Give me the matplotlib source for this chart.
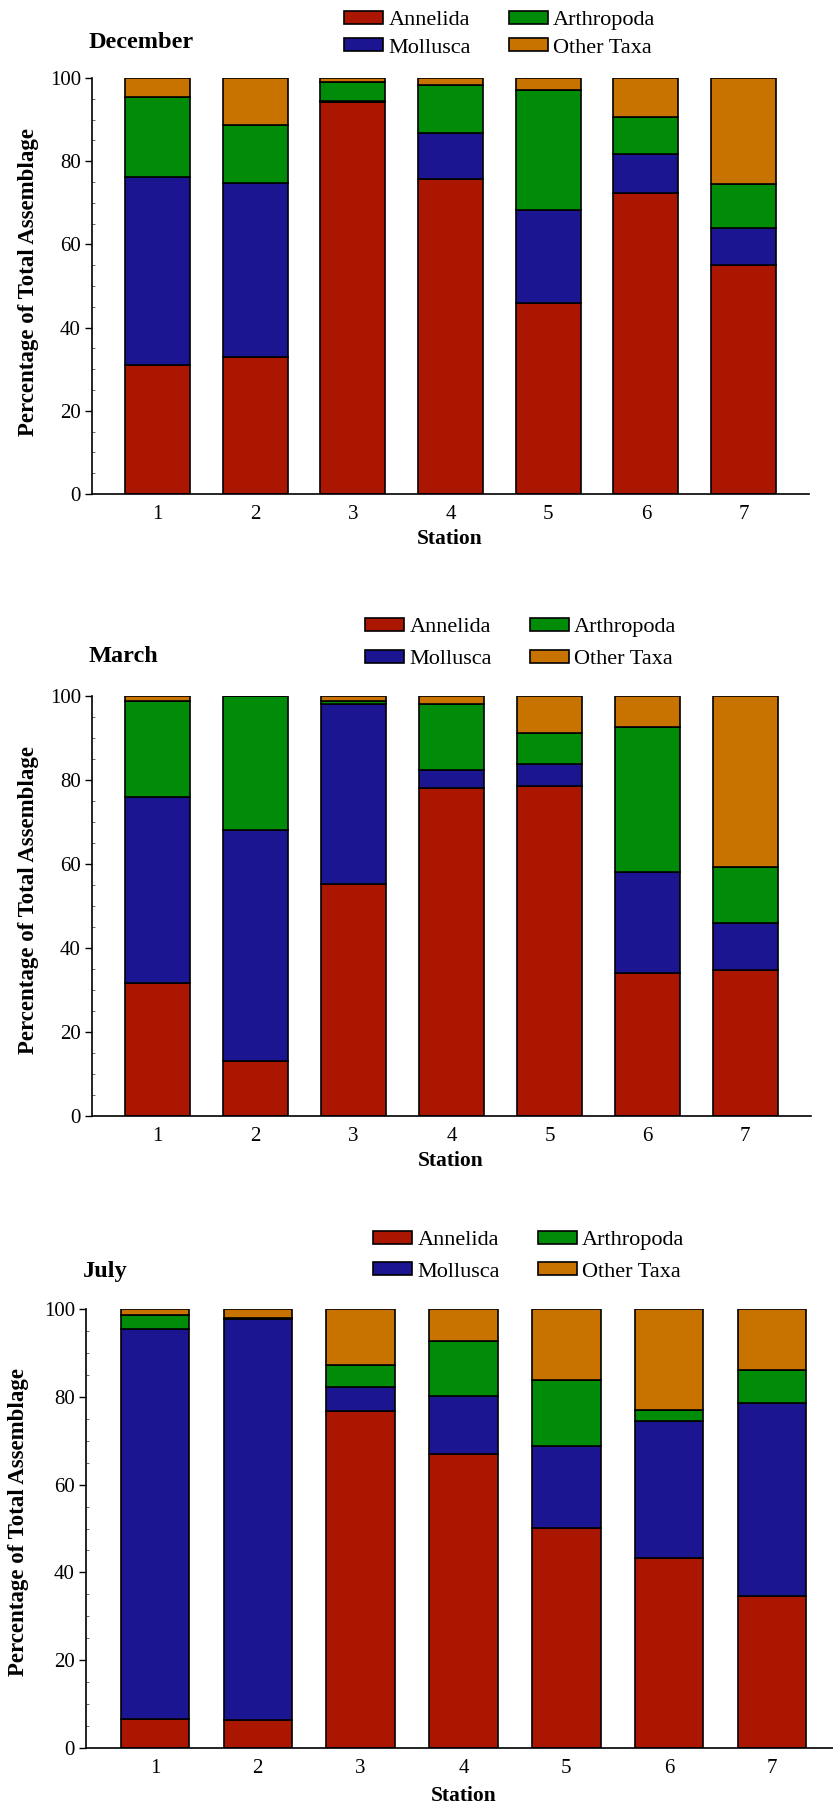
import numpy as np
import matplotlib
matplotlib.use("Agg")
import matplotlib.pyplot as plt
from matplotlib.patches import Patch
from matplotlib.ticker import MultipleLocator

plt.rcParams['font.family'] = ['Liberation Serif', 'DejaVu Serif']

stations = [1, 2, 3, 4, 5, 6, 7]
taxa = ["Annelida", "Mollusca", "Arthropoda", "Other Taxa"]
colors = ["#AA1600", "#1B1591", "#008C08", "#C87300"]

# percent of total assemblage per station, one list per taxon
dec_annelida = [31.0, 33.0, 94.2, 75.7, 45.9, 72.3, 55.1]
dec_mollusca = [45.3, 41.7, 0.3, 11.1, 22.3, 9.4, 8.9]
dec_arthropoda = [19.1, 14.0, 4.5, 11.5, 28.9, 9.0, 10.6]
dec_other = [4.6, 11.3, 1.0, 1.7, 2.9, 9.3, 25.4]

mar_annelida = [31.7, 13.2, 55.2, 78.1, 78.5, 34.0, 34.8]
mar_mollusca = [44.3, 54.8, 42.9, 4.3, 5.4, 24.1, 11.1]
mar_arthropoda = [22.9, 32.0, 0.7, 15.8, 7.2, 34.6, 13.4]
mar_other = [1.1, 0.0, 1.2, 1.8, 8.9, 7.3, 40.7]

jul_annelida = [6.6, 6.4, 76.7, 67.0, 50.1, 43.3, 34.7]
jul_mollusca = [88.8, 91.3, 5.5, 13.1, 18.7, 31.2, 43.8]
jul_arthropoda = [3.2, 0.2, 5.0, 12.7, 15.0, 2.4, 7.5]
jul_other = [1.4, 2.1, 12.8, 7.2, 16.2, 23.1, 14.0]

W, H = 833, 1807
fig = plt.figure(figsize=(W / 100, H / 100), dpi=100)


def fx(px):
    return px / W


def fy(py):
    return 1 - py / H


panels = [
    # name, series, axes box (px: left, top, right, bottom), title xy,
    # legend xy, legend row gap, ylabel xy, xlabel xy
    ("December", [dec_annelida, dec_mollusca, dec_arthropoda, dec_other],
     (92, 78, 809, 494), (89, 42), (344, 11), 0.37, (29, 282), (450, 539)),
    ("March", [mar_annelida, mar_mollusca, mar_arthropoda, mar_other],
     (92, 696, 811, 1116), (89, 657), (365, 618), 0.58, (29, 900), (451, 1161)),
    ("July", [jul_annelida, jul_mollusca, jul_arthropoda, jul_other],
     (86, 1309, 841, 1748), (83, 1271), (373, 1231), 0.55, (19, 1522), (464, 1796)),
]

for name, series, box, tpos, lpos, lspace, ylpos, xlpos in panels:
    l, t, r, b = box
    ax = fig.add_axes([fx(l), fy(b), fx(r) - fx(l), (b - t) / H])
    bottom = np.zeros(len(stations))
    for vals, c in zip(series, colors):
        ax.bar(stations, vals, width=0.665, bottom=bottom, color=c,
               edgecolor="black", linewidth=1.2)
        bottom += np.array(vals)

    ax.set_xlim(0.33, 7.67)
    ax.set_ylim(0, 100)
    ax.set_xticks(stations)
    ax.set_yticks([0, 20, 40, 60, 80, 100])
    ax.yaxis.set_minor_locator(MultipleLocator(5))
    ax.tick_params(axis="x", length=0, pad=8, labelsize=15)
    ax.tick_params(axis="y", which="major", direction="out", length=5,
                   width=1, pad=3, labelsize=15)
    ax.tick_params(axis="y", which="minor", direction="in", length=2.5,
                   width=0.6, color="#555555")
    for s in ("top", "right"):
        ax.spines[s].set_visible(False)
    for s in ("left", "bottom"):
        ax.spines[s].set_linewidth(1.2)

    fig.text(fx(tpos[0]), fy(tpos[1]), name, ha="left", va="center",
             fontsize=17.5, fontweight="bold")
    fig.text(fx(ylpos[0]), fy(ylpos[1]), "Percentage of Total Assemblage",
             rotation=90, ha="center", va="center", fontsize=16.5,
             fontweight="bold")
    fig.text(fx(xlpos[0]), fy(xlpos[1]), "Station", ha="center", va="center",
             fontsize=15.5, fontweight="bold")

    handles = [Patch(facecolor=c, edgecolor="black", linewidth=1.2)
               for c in colors]
    fig.legend(handles, taxa, ncol=2, loc="upper left",
               bbox_to_anchor=(fx(lpos[0]), fy(lpos[1])),
               frameon=False, fontsize=16, borderpad=0, borderaxespad=0,
               handlelength=1.75, handleheight=0.5, handletextpad=0.25,
               columnspacing=1.7, labelspacing=lspace)

fig.savefig("out.png", dpi=100)
